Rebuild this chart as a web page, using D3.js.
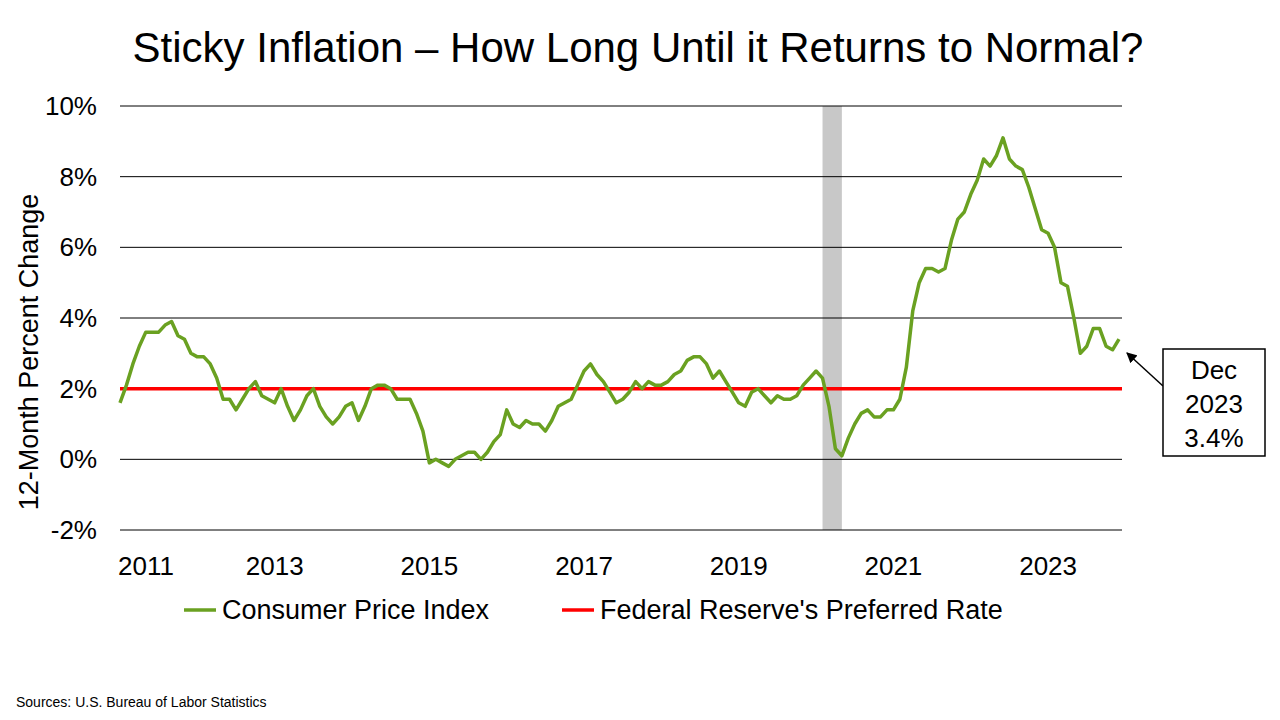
<!DOCTYPE html>
<html><head><meta charset="utf-8">
<script src="https://cdn.jsdelivr.net/npm/d3@7"></script>
<style>body{margin:0;background:#fff}svg{font-family:"Liberation Sans",Arial,sans-serif}</style>
</head><body><svg id="chart" width="1280" height="720"></svg>
<script>
// Data: CPI 12-month % change, Jan 2011 .. Dec 2023
const startYear = 2011;
const cpi = [
  1.6,2.1,2.7,3.2,3.6,3.6,3.6,3.8,3.9,3.5,3.4,3.0,
  2.9,2.9,2.7,2.3,1.7,1.7,1.4,1.7,2.0,2.2,1.8,1.7,
  1.6,2.0,1.5,1.1,1.4,1.8,2.0,1.5,1.2,1.0,1.2,1.5,
  1.6,1.1,1.5,2.0,2.1,2.1,2.0,1.7,1.7,1.7,1.3,0.8,
  -0.1,0.0,-0.1,-0.2,0.0,0.1,0.2,0.2,0.0,0.2,0.5,0.7,
  1.4,1.0,0.9,1.1,1.0,1.0,0.8,1.1,1.5,1.6,1.7,2.1,
  2.5,2.7,2.4,2.2,1.9,1.6,1.7,1.9,2.2,2.0,2.2,2.1,
  2.1,2.2,2.4,2.5,2.8,2.9,2.9,2.7,2.3,2.5,2.2,1.9,
  1.6,1.5,1.9,2.0,1.8,1.6,1.8,1.7,1.7,1.8,2.1,2.3,
  2.5,2.3,1.5,0.3,0.1,0.6,1.0,1.3,1.4,1.2,1.2,1.4,
  1.4,1.7,2.6,4.2,5.0,5.4,5.4,5.3,5.4,6.2,6.8,7.0,
  7.5,7.9,8.5,8.3,8.6,9.1,8.5,8.3,8.2,7.7,7.1,6.5,
  6.4,6.0,5.0,4.9,4.0,3.0,3.2,3.7,3.7,3.2,3.1,3.4
];
const fedTarget = 2;
const recession = [2020 + 1/12, 2020 + 4/12];
const yTicks = [-2, 0, 2, 4, 6, 8, 10];
const xTicks = [2011, 2013, 2015, 2017, 2019, 2021, 2023];
const callout = ["Dec", "2023", "3.4%"];

const svg = d3.select('#chart');
const x = d3.scaleLinear().domain([2011, 2011 + 155/12]).range([120, 1119]);
const y = d3.scaleLinear().domain([-2, 10]).range([530, 106]);
const green = '#6aa121';

svg.append('text').attr('x', 638).attr('y', 62).attr('text-anchor', 'middle')
  .attr('font-size', 42).text('Sticky Inflation \u2013 How Long Until it Returns to Normal?');

// recession band
svg.append('rect').attr('x', x(recession[0])).attr('y', y(10))
  .attr('width', x(recession[1]) - x(recession[0])).attr('height', y(-2) - y(10))
  .attr('fill', '#c8c8c8');

// gridlines
svg.selectAll('line.grid').data(yTicks).join('line').attr('class', 'grid')
  .attr('x1', 120).attr('x2', 1122).attr('y1', d => y(d)).attr('y2', d => y(d))
  .attr('stroke', '#000').attr('stroke-width', 1);

svg.selectAll('text.yl').data(yTicks).join('text').attr('class', 'yl')
  .attr('x', 97).attr('y', d => y(d) + 9).attr('text-anchor', 'end')
  .attr('font-size', 26).text(d => d + '%');

svg.selectAll('text.xl').data(xTicks).join('text').attr('class', 'xl')
  .attr('x', (d, i) => i === 0 ? 118 : x(d)).attr('y', 575)
  .attr('text-anchor', (d, i) => i === 0 ? 'start' : 'middle')
  .attr('font-size', 26).text(d => d);

svg.append('text').attr('transform', 'translate(38,352) rotate(-90)')
  .attr('text-anchor', 'middle').attr('font-size', 27).text('12-Month Percent Change');

// fed line
svg.append('line').attr('x1', 120).attr('x2', 1122).attr('y1', y(fedTarget)).attr('y2', y(fedTarget))
  .attr('stroke', '#ff0000').attr('stroke-width', 3.5);

// cpi line
svg.append('path').datum(cpi)
  .attr('d', d3.line().x((d, i) => x(startYear + i / 12)).y(d => y(d)))
  .attr('fill', 'none').attr('stroke', green).attr('stroke-width', 3.5).attr('stroke-linejoin', 'round');

// legend
svg.append('line').attr('x1', 184).attr('x2', 216).attr('y1', 610).attr('y2', 610).attr('stroke', green).attr('stroke-width', 3.5);
svg.append('text').attr('x', 222).attr('y', 619).attr('font-size', 27).text('Consumer Price Index');
svg.append('line').attr('x1', 562).attr('x2', 594).attr('y1', 610).attr('y2', 610).attr('stroke', '#ff0000').attr('stroke-width', 3.5);
svg.append('text').attr('x', 600).attr('y', 619).attr('font-size', 27).text("Federal Reserve's Preferred Rate");

// callout
svg.append('defs').append('marker').attr('id', 'ah').attr('viewBox', '0 0 10 10')
  .attr('refX', 9).attr('refY', 5).attr('markerWidth', 7).attr('markerHeight', 7).attr('orient', 'auto')
  .append('path').attr('d', 'M0,0L10,5L0,10z').attr('fill', '#000');
svg.append('line').attr('x1', 1163).attr('y1', 386).attr('x2', 1127).attr('y2', 353)
  .attr('stroke', '#000').attr('stroke-width', 1.5).attr('marker-end', 'url(#ah)');
svg.append('rect').attr('x', 1163).attr('y', 349).attr('width', 102).attr('height', 107)
  .attr('fill', '#fff').attr('stroke', '#000').attr('stroke-width', 1.5);
svg.selectAll('text.co').data(callout).join('text').attr('class', 'co')
  .attr('x', 1214).attr('y', (d, i) => 379 + i * 34).attr('text-anchor', 'middle')
  .attr('font-size', 26).text(d => d);

svg.append('text').attr('x', 16).attr('y', 707).attr('font-size', 14).text('Sources: U.S. Bureau of Labor Statistics');
</script></body></html>
